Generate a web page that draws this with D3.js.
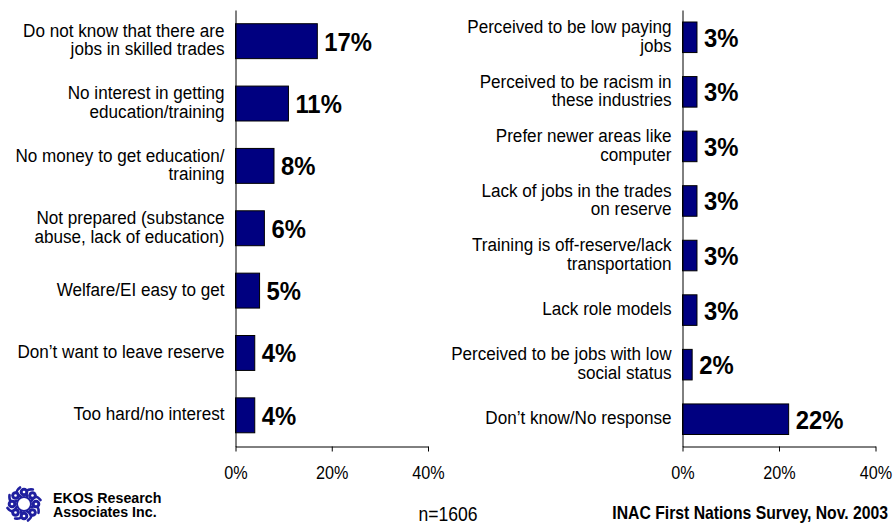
<!DOCTYPE html>
<html>
<head>
<meta charset="utf-8">
<script src="https://cdn.jsdelivr.net/npm/d3@7/dist/d3.min.js"></script>
<style>
  html, body { margin: 0; padding: 0; background: #fff; }
  svg { display: block; font-family: Arial, "Liberation Sans", sans-serif; }
</style>
</head>
<body>
<svg id="chart" width="893" height="525"></svg>
<script>
// Reasons given for not pursuing skilled trades (percent of respondents)
const leftCategories = [
  "Do not know that there are\njobs in skilled trades",
  "No interest in getting\neducation/training",
  "No money to get education/\ntraining",
  "Not prepared (substance\nabuse, lack of education)",
  "Welfare/EI easy to get",
  "Don\u2019t want to leave reserve",
  "Too hard/no interest"
];
const leftValues = [17, 11, 8, 6, 5, 4, 4];

const rightCategories = [
  "Perceived to be low paying\njobs",
  "Perceived to be racism in\nthese industries",
  "Prefer newer areas like\ncomputer",
  "Lack of jobs in the trades\non reserve",
  "Training is off-reserve/lack\ntransportation",
  "Lack role models",
  "Perceived to be jobs with low\nsocial status",
  "Don\u2019t know/No response"
];
const rightValues = [3, 3, 3, 3, 3, 3, 2, 22];

const tickValues = [0, 20, 40];
const sampleNote = "n=1606";
const sourceNote = "INAC First Nations Survey, Nov. 2003";
const companyLines = ["EKOS Research", "Associates Inc."];

const svg = d3.select("#chart");
const SQUEEZE = 0.9;

function addText(g, x, y, str, size, weight, anchor) {
  return g.append("text")
    .attr("transform", `translate(${x},${y}) scale(${SQUEEZE},1)`)
    .attr("text-anchor", anchor)
    .attr("font-size", size)
    .attr("font-weight", weight)
    .attr("fill", "#000")
    .text(str);
}

function panel(cats, vals, x0, x1) {
  const g = svg.append("g");
  const x = d3.scaleLinear().domain([0, 40]).range([x0, x1]);
  const y = d3.scaleBand().domain(cats).range([10, 446.5])
    .paddingInner(0.44).paddingOuter(0.22);

  // bars
  g.selectAll("rect.bar").data(cats).join("rect")
    .attr("class", "bar")
    .attr("x", x(0))
    .attr("y", d => y(d))
    .attr("width", (d, i) => x(vals[i]) - x(0))
    .attr("height", y.bandwidth())
    .attr("fill", "#000080")
    .attr("stroke", "#000")
    .attr("stroke-width", 1);

  // value labels
  cats.forEach((c, i) => {
    const cy = y(c) + y.bandwidth() / 2;
    addText(g, x(vals[i]) + 7, cy + 9.5, vals[i] + "%", 26.5, "bold", "start");
  });

  // category labels (right-aligned, one text per category, lines as tspans)
  const lineH = 18.6;
  cats.forEach(c => {
    const lines = c.split("\n");
    const cy = y(c) + y.bandwidth() / 2;
    const top = cy + 5 - (lines.length - 1) / 2 * lineH;
    const t = g.append("text")
      .attr("transform", `translate(${x(0) - 11},${top}) scale(${SQUEEZE},1)`)
      .attr("text-anchor", "end")
      .attr("font-size", 19)
      .attr("fill", "#000");
    lines.forEach((ln, k) => {
      t.append("tspan").attr("x", 0).attr("y", k * lineH).text(ln);
    });
  });

  // vertical axis line
  g.append("g")
    .attr("transform", `translate(${x(0)},0)`)
    .call(d3.axisLeft(y).tickSize(0).tickFormat(""))
    .call(a => a.select(".domain").attr("stroke", "#000"));

  // bottom axis
  const ax = g.append("g")
    .attr("transform", "translate(0,446.5)")
    .call(d3.axisBottom(x).tickValues(tickValues).tickFormat(d => d + "%")
      .tickSize(5).tickSizeOuter(0));
  ax.select(".domain").attr("stroke", "#000");
  ax.selectAll(".tick line").attr("stroke", "#000");
  ax.selectAll(".tick text")
    .attr("y", null).attr("dy", null)
    .attr("transform", `translate(0,32.5) scale(${SQUEEZE},1)`)
    .attr("font-size", 18)
    .attr("font-family", "Arial, 'Liberation Sans', sans-serif")
    .attr("fill", "#000");
}

panel(leftCategories, leftValues, 235.5, 428);
panel(rightCategories, rightValues, 682.5, 875.5);

// footer notes
const foot = svg.append("g");
addText(foot, 448, 521, sampleNote, 19.5, "normal", "middle");
addText(foot, 888, 519, sourceNote, 17.5, "bold", "end");
const company = foot.append("text")
  .attr("transform", "translate(53,502.5) scale(0.95,1)")
  .attr("font-size", 15).attr("font-weight", "bold").attr("fill", "#000");
companyLines.forEach((t, i) => {
  company.append("tspan").attr("x", 0).attr("y", i * 15).text(t);
});

// company emblem: ring of swirls
const logo = svg.append("g").attr("transform", "translate(24,504)");
const blue = "#1f1f9f";
for (let i = 0; i < 8; i++) {
  const a = i * Math.PI / 4;
  const hx = 12 * Math.cos(a), hy = 12 * Math.sin(a);
  logo.append("circle").attr("cx", hx).attr("cy", hy).attr("r", 4.3).attr("fill", blue);
  const a2 = a + 0.55;
  const tx = 17 * Math.cos(a2), ty = 17 * Math.sin(a2);
  const mx = 8 * Math.cos(a + 0.4), my = 8 * Math.sin(a + 0.4);
  logo.append("path")
    .attr("d", `M${mx},${my} Q${hx * 1.3},${hy * 1.3} ${tx},${ty}`)
    .attr("fill", "none").attr("stroke", blue).attr("stroke-width", 2.6)
    .attr("stroke-linecap", "round");
  logo.append("circle").attr("cx", hx).attr("cy", hy).attr("r", 1.3).attr("fill", "#fff");
}
logo.append("circle").attr("r", 7).attr("fill", "none").attr("stroke", blue).attr("stroke-width", 2);
</script>
</body>
</html>
